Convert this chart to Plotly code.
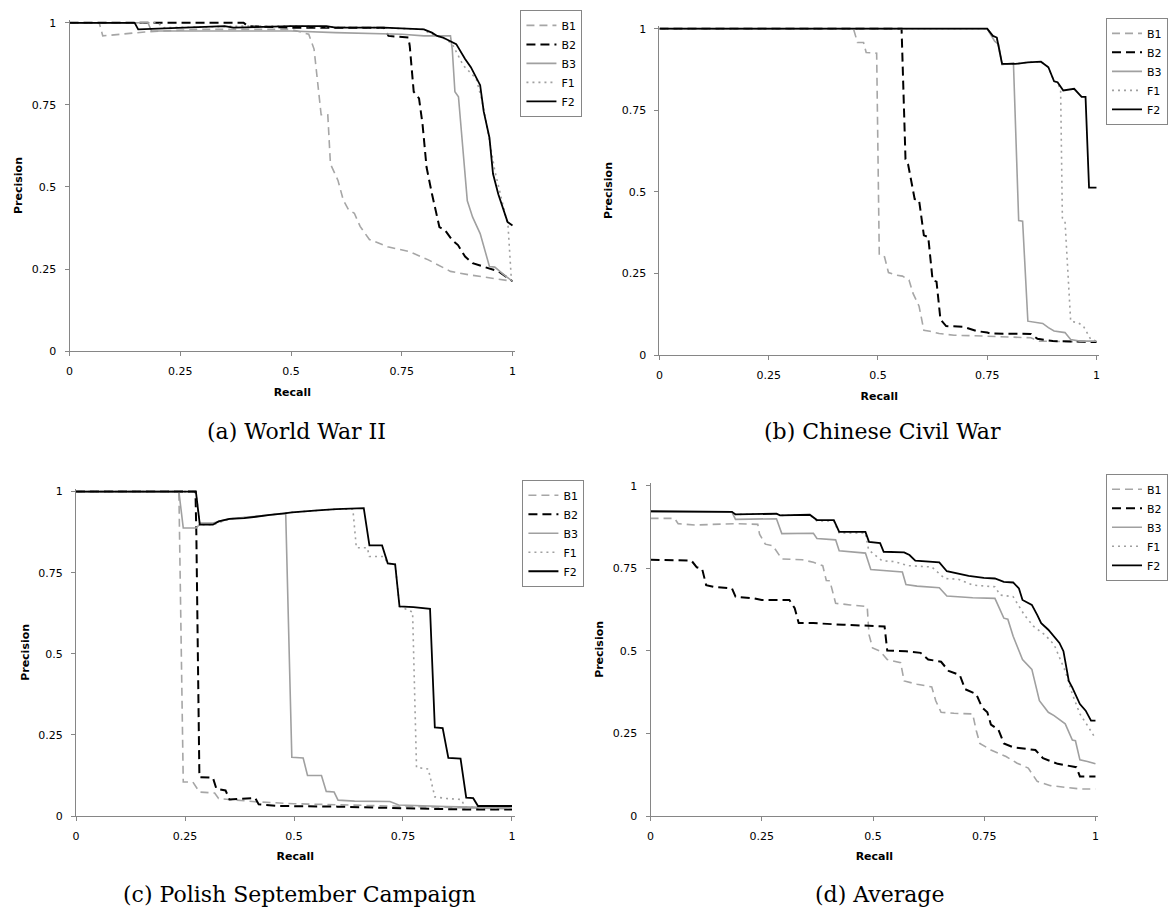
import plotly.graph_objects as go

# ---------------- data (recall, precision) ----------------
series_names = ["B1", "B2", "B3", "F1", "F2"]
tick_vals = [0, 0.25, 0.5, 0.75, 1]
tick_text = ["0", "0.25", "0.5", "0.75", "1"]
captions = ["(a) World War II", "(b) Chinese Civil War",
            "(c) Polish September Campaign", "(d) Average"]

# (a) World War II
a_B1_x = [0, 0.067, 0.075, 0.17, 0.29, 0.5, 0.54, 0.552, 0.564, 0.568, 0.583, 0.589, 0.606, 0.618, 0.63, 0.643, 0.656, 0.677, 0.718, 0.768, 0.81, 0.839, 0.86, 0.9, 0.95, 1.0]
a_B1_y = [1, 1, 0.96, 0.972, 0.98, 0.98, 0.965, 0.92, 0.77, 0.72, 0.72, 0.57, 0.52, 0.46, 0.43, 0.42, 0.38, 0.34, 0.318, 0.303, 0.278, 0.258, 0.243, 0.233, 0.223, 0.213]
a_B2_x = [0, 0.393, 0.402, 0.5, 0.71, 0.72, 0.765, 0.768, 0.777, 0.789, 0.797, 0.806, 0.818, 0.835, 0.848, 0.864, 0.877, 0.893, 0.91, 0.935, 0.968, 1.0]
a_B2_y = [1, 1, 0.99, 0.985, 0.985, 0.96, 0.955, 0.93, 0.79, 0.77, 0.69, 0.56, 0.48, 0.378, 0.368, 0.338, 0.323, 0.288, 0.268, 0.258, 0.243, 0.213]
a_B3_x = [0, 0.177, 0.185, 0.3, 0.5, 0.6, 0.75, 0.8, 0.86, 0.864, 0.87, 0.878, 0.885, 0.898, 0.91, 0.927, 0.948, 0.96, 0.985, 1.0]
a_B3_y = [1, 1, 0.975, 0.975, 0.975, 0.97, 0.965, 0.96, 0.96, 0.92, 0.79, 0.775, 0.66, 0.458, 0.408, 0.358, 0.258, 0.256, 0.228, 0.213]
a_F1_x = [0, 0.2, 0.21, 0.39, 0.4, 0.5, 0.7, 0.8, 0.81, 0.85, 0.864, 0.889, 0.918, 0.93, 0.943, 0.96, 0.977, 0.987, 0.99, 0.997, 1.0]
a_F1_y = [1, 1, 0.985, 0.99, 0.99, 0.99, 0.985, 0.98, 0.97, 0.95, 0.935, 0.87, 0.83, 0.77, 0.68, 0.55, 0.458, 0.398, 0.38, 0.228, 0.22]
a_F2_x = [0, 0.147, 0.155, 0.35, 0.37, 0.5, 0.58, 0.6, 0.71, 0.8, 0.818, 0.83, 0.843, 0.86, 0.873, 0.893, 0.906, 0.927, 0.935, 0.948, 0.956, 0.968, 0.981, 0.989, 1.0]
a_F2_y = [1, 1, 0.98, 0.99, 0.985, 0.99, 0.99, 0.985, 0.985, 0.98, 0.97, 0.96, 0.955, 0.945, 0.935, 0.89, 0.865, 0.81, 0.73, 0.65, 0.54, 0.478, 0.428, 0.393, 0.383]

# (b) Chinese Civil War
b_B1_x = [0, 0.444, 0.453, 0.467, 0.473, 0.497, 0.503, 0.515, 0.524, 0.543, 0.556, 0.571, 0.58, 0.594, 0.605, 0.619, 0.64, 0.674, 0.75, 0.85, 0.869, 1.0]
b_B1_y = [1, 1, 0.958, 0.958, 0.927, 0.925, 0.306, 0.301, 0.253, 0.245, 0.242, 0.23, 0.19, 0.15, 0.076, 0.073, 0.066, 0.061, 0.058, 0.053, 0.043, 0.04]
b_B2_x = [0, 0.554, 0.563, 0.569, 0.584, 0.594, 0.605, 0.615, 0.625, 0.634, 0.643, 0.656, 0.695, 0.725, 0.75, 0.759, 0.85, 0.865, 0.9, 1.0]
b_B2_y = [1, 1, 0.6, 0.584, 0.478, 0.475, 0.367, 0.362, 0.23, 0.225, 0.109, 0.089, 0.087, 0.074, 0.069, 0.066, 0.065, 0.05, 0.043, 0.04]
b_B3_x = [0, 0.75, 0.767, 0.776, 0.784, 0.81, 0.822, 0.831, 0.843, 0.856, 0.877, 0.89, 0.903, 0.928, 0.941, 0.962, 1.0]
b_B3_y = [1, 1, 0.962, 0.952, 0.89, 0.895, 0.412, 0.41, 0.104, 0.101, 0.097, 0.084, 0.074, 0.069, 0.048, 0.043, 0.043]
b_F1_x = [0, 0.75, 0.763, 0.772, 0.784, 0.814, 0.843, 0.873, 0.89, 0.903, 0.911, 0.918, 0.922, 0.928, 0.941, 0.958, 0.97, 0.987, 1.0]
b_F1_y = [1, 1, 0.975, 0.97, 0.892, 0.892, 0.897, 0.899, 0.882, 0.839, 0.836, 0.811, 0.42, 0.41, 0.104, 0.099, 0.089, 0.048, 0.043]
b_F2_x = [0, 0.75, 0.763, 0.772, 0.784, 0.814, 0.843, 0.873, 0.89, 0.903, 0.911, 0.924, 0.949, 0.966, 0.975, 0.983, 1.0]
b_F2_y = [1, 1, 0.978, 0.973, 0.892, 0.892, 0.897, 0.899, 0.882, 0.839, 0.836, 0.811, 0.816, 0.791, 0.791, 0.513, 0.513]

# (c) Polish September Campaign
c_B1_x = [0, 0.236, 0.246, 0.268, 0.283, 0.318, 0.327, 0.377, 0.411, 0.5, 0.75, 1.0]
c_B1_y = [1, 1, 0.105, 0.105, 0.074, 0.071, 0.054, 0.049, 0.044, 0.038, 0.03, 0.022]
c_B2_x = [0, 0.274, 0.276, 0.283, 0.314, 0.322, 0.343, 0.352, 0.411, 0.419, 0.462, 0.6, 0.75, 0.9, 1.0]
c_B2_y = [1, 1, 0.873, 0.12, 0.118, 0.084, 0.079, 0.051, 0.056, 0.036, 0.031, 0.029, 0.024, 0.02, 0.02]
c_B3_x = [0, 0.236, 0.246, 0.276, 0.286, 0.314, 0.352, 0.411, 0.445, 0.481, 0.495, 0.521, 0.531, 0.563, 0.574, 0.592, 0.601, 0.639, 0.72, 0.74, 0.85, 1.0]
c_B3_y = [1, 1, 0.888, 0.888, 0.903, 0.903, 0.916, 0.923, 0.928, 0.933, 0.181, 0.179, 0.125, 0.125, 0.076, 0.074, 0.049, 0.046, 0.045, 0.034, 0.029, 0.025]
c_F1_x = [0, 0.275, 0.284, 0.314, 0.352, 0.411, 0.495, 0.597, 0.635, 0.643, 0.668, 0.673, 0.706, 0.715, 0.732, 0.742, 0.772, 0.781, 0.808, 0.823, 0.85, 0.884, 0.892, 1.0]
c_F1_y = [1, 1, 0.898, 0.898, 0.916, 0.923, 0.936, 0.946, 0.946, 0.827, 0.827, 0.8, 0.8, 0.779, 0.776, 0.646, 0.629, 0.15, 0.145, 0.059, 0.054, 0.051, 0.028, 0.025]
c_F2_x = [0, 0.275, 0.284, 0.314, 0.327, 0.352, 0.386, 0.411, 0.445, 0.478, 0.495, 0.554, 0.597, 0.66, 0.673, 0.702, 0.715, 0.732, 0.742, 0.774, 0.812, 0.823, 0.841, 0.854, 0.882, 0.895, 0.911, 0.922, 1.0]
c_F2_y = [1, 1, 0.898, 0.898, 0.908, 0.916, 0.918, 0.923, 0.928, 0.933, 0.936, 0.942, 0.946, 0.949, 0.834, 0.834, 0.779, 0.776, 0.646, 0.644, 0.639, 0.273, 0.271, 0.179, 0.177, 0.057, 0.055, 0.031, 0.031]

# (d) Average
d_B1_x = [0, 0.054, 0.062, 0.1, 0.191, 0.241, 0.245, 0.258, 0.275, 0.295, 0.341, 0.366, 0.387, 0.395, 0.403, 0.416, 0.449, 0.487, 0.491, 0.499, 0.516, 0.532, 0.562, 0.57, 0.599, 0.632, 0.641, 0.653, 0.682, 0.724, 0.732, 0.74, 0.765, 0.799, 0.824, 0.849, 0.869, 0.899, 0.932, 0.965, 1.0]
d_B1_y = [0.901, 0.901, 0.885, 0.881, 0.885, 0.883, 0.853, 0.823, 0.818, 0.778, 0.776, 0.768, 0.758, 0.713, 0.712, 0.644, 0.639, 0.634, 0.549, 0.509, 0.499, 0.474, 0.464, 0.409, 0.399, 0.391, 0.349, 0.314, 0.311, 0.309, 0.259, 0.22, 0.2, 0.18, 0.16, 0.145, 0.105, 0.092, 0.087, 0.082, 0.082]
d_B2_x = [0, 0.092, 0.104, 0.116, 0.125, 0.141, 0.183, 0.191, 0.233, 0.25, 0.312, 0.324, 0.333, 0.366, 0.433, 0.483, 0.516, 0.526, 0.532, 0.574, 0.607, 0.624, 0.653, 0.67, 0.695, 0.707, 0.732, 0.745, 0.757, 0.765, 0.782, 0.794, 0.815, 0.849, 0.865, 0.882, 0.915, 0.957, 0.965, 1.0]
d_B2_y = [0.776, 0.773, 0.753, 0.748, 0.699, 0.694, 0.689, 0.664, 0.659, 0.654, 0.654, 0.629, 0.584, 0.584, 0.579, 0.577, 0.576, 0.574, 0.501, 0.499, 0.494, 0.474, 0.467, 0.439, 0.427, 0.384, 0.369, 0.329, 0.314, 0.277, 0.261, 0.22, 0.208, 0.202, 0.2, 0.175, 0.158, 0.148, 0.12, 0.12]
d_B3_x = [0, 0.183, 0.191, 0.283, 0.295, 0.366, 0.374, 0.416, 0.424, 0.483, 0.495, 0.516, 0.566, 0.574, 0.599, 0.649, 0.666, 0.724, 0.774, 0.794, 0.803, 0.815, 0.836, 0.857, 0.874, 0.894, 0.907, 0.932, 0.948, 0.955, 0.965, 0.982, 1.0]
d_B3_y = [0.92, 0.92, 0.898, 0.9, 0.855, 0.856, 0.84, 0.836, 0.803, 0.796, 0.746, 0.744, 0.739, 0.701, 0.696, 0.691, 0.666, 0.661, 0.659, 0.599, 0.596, 0.544, 0.474, 0.444, 0.349, 0.314, 0.304, 0.279, 0.23, 0.228, 0.17, 0.165, 0.158]
d_F1_x = [0, 0.183, 0.191, 0.283, 0.291, 0.358, 0.374, 0.412, 0.424, 0.483, 0.49, 0.52, 0.549, 0.578, 0.632, 0.661, 0.691, 0.724, 0.774, 0.786, 0.815, 0.84, 0.861, 0.886, 0.907, 0.932, 0.948, 0.965, 0.982, 1.0]
d_F1_y = [0.92, 0.92, 0.913, 0.915, 0.91, 0.912, 0.893, 0.893, 0.857, 0.857, 0.806, 0.773, 0.77, 0.758, 0.754, 0.719, 0.717, 0.699, 0.694, 0.669, 0.664, 0.609, 0.574, 0.549, 0.519, 0.439, 0.369, 0.309, 0.274, 0.235]
d_F2_x = [0, 0.183, 0.191, 0.283, 0.291, 0.358, 0.374, 0.412, 0.424, 0.483, 0.491, 0.516, 0.524, 0.57, 0.582, 0.595, 0.649, 0.666, 0.715, 0.749, 0.774, 0.794, 0.815, 0.828, 0.836, 0.857, 0.869, 0.878, 0.894, 0.907, 0.919, 0.928, 0.94, 0.948, 0.965, 0.978, 0.99, 1.0]
d_F2_y = [0.923, 0.921, 0.913, 0.915, 0.91, 0.912, 0.896, 0.896, 0.86, 0.86, 0.83, 0.826, 0.8, 0.798, 0.79, 0.773, 0.768, 0.741, 0.727, 0.721, 0.719, 0.709, 0.707, 0.689, 0.654, 0.639, 0.609, 0.584, 0.564, 0.544, 0.524, 0.499, 0.409, 0.389, 0.339, 0.319, 0.289, 0.289]

panels_data = [
    [(a_B1_x, a_B1_y), (a_B2_x, a_B2_y), (a_B3_x, a_B3_y), (a_F1_x, a_F1_y), (a_F2_x, a_F2_y)],
    [(b_B1_x, b_B1_y), (b_B2_x, b_B2_y), (b_B3_x, b_B3_y), (b_F1_x, b_F1_y), (b_F2_x, b_F2_y)],
    [(c_B1_x, c_B1_y), (c_B2_x, c_B2_y), (c_B3_x, c_B3_y), (c_F1_x, c_F1_y), (c_F2_x, c_F2_y)],
    [(d_B1_x, d_B1_y), (d_B2_x, d_B2_y), (d_B3_x, d_B3_y), (d_F1_x, d_F1_y), (d_F2_x, d_F2_y)],
]

# ---------------- layout / style ----------------
W, H = 1168, 918
# pixel positions of value 0 and 1 on each axis: (X0, X1, Y0, Y1)
panel_px = [(66, 512, 352, 20), (660, 1100, 356, 26), (72.5, 511.5, 822, 494), (651, 1099, 822, 488)]
legend_px = [(520, 7), (1110, 15), (522, 482), (1110, 476)]
caption_px = [(295, 433), (885, 433), (298, 901), (882, 901)]
XR = [0, 1.006]
YR = [0, 1.009]

styles = [
    dict(color="#A6A6A6", width=1.6, dash="8px,5px"),
    dict(color="#000000", width=2.0, dash="9px,5px"),
    dict(color="#A0A0A0", width=1.6, dash="solid"),
    dict(color="#A0A0A0", width=1.6, dash="2px,4px"),
    dict(color="#000000", width=1.8, dash="solid"),
]

AXIS_COLOR = "#868686"
FONT = "DejaVu Sans"

fig = go.Figure()
layout = dict(width=W, height=H, margin=dict(l=0, r=0, t=0, b=0),
              paper_bgcolor="white", plot_bgcolor="white", showlegend=True,
              annotations=[])

for p in range(4):
    X0, X1, Y0, Y1 = panel_px[p]
    sx = X1 - X0
    sy = Y0 - Y1
    dx = [(X0 + XR[0] * sx) / W, (X0 + XR[1] * sx) / W]
    dy = [1 - (Y0 - YR[0] * sy) / H, 1 - (Y0 - YR[1] * sy) / H]
    suf = "" if p == 0 else str(p + 1)
    lg = "legend" + suf
    for i, name in enumerate(series_names):
        xs, ys = panels_data[p][i]
        fig.add_trace(go.Scatter(x=xs, y=ys, mode="lines", name=name,
                                 line=styles[i], xaxis="x" + suf, yaxis="y" + suf,
                                 legend=lg, hoverinfo="skip"))
    common = dict(showline=True, linecolor=AXIS_COLOR, linewidth=1, showgrid=False,
                  zeroline=False, ticks="outside", ticklen=4, tickcolor=AXIS_COLOR,
                  tickvals=tick_vals, ticktext=tick_text, ticklabelstandoff=6,
                  tickfont=dict(family=FONT, size=11, color="#000000"))
    layout["xaxis" + suf] = dict(common, domain=dx, range=XR,
                                 anchor="y" + suf,
                                 title=dict(text="<b>Recall</b>", standoff=10,
                                            font=dict(family=FONT, size=11, color="#000")))
    layout["yaxis" + suf] = dict(common, domain=dy, range=YR,
                                 anchor="x" + suf,
                                 title=dict(text="<b>Precision</b>", standoff=6,
                                            font=dict(family=FONT, size=11, color="#000")))
    lx, ly = legend_px[p]
    layout[lg] = dict(x=lx / W, y=1 - ly / H, xanchor="left", yanchor="top",
                      xref="paper", yref="paper",
                      bordercolor=AXIS_COLOR, borderwidth=1, bgcolor="white",
                      font=dict(family=FONT, size=11, color="#000"),
                      tracegroupgap=0, itemwidth=30)
    cx, cy = caption_px[p]
    layout["annotations"].append(dict(text=captions[p], x=cx / W, y=1 - cy / H,
                                      xref="paper", yref="paper", showarrow=False,
                                      xanchor="center", yanchor="middle",
                                      font=dict(family="DejaVu Serif", size=22, color="#000")))

fig.update_layout(**layout)
fig.write_html("out.html")
